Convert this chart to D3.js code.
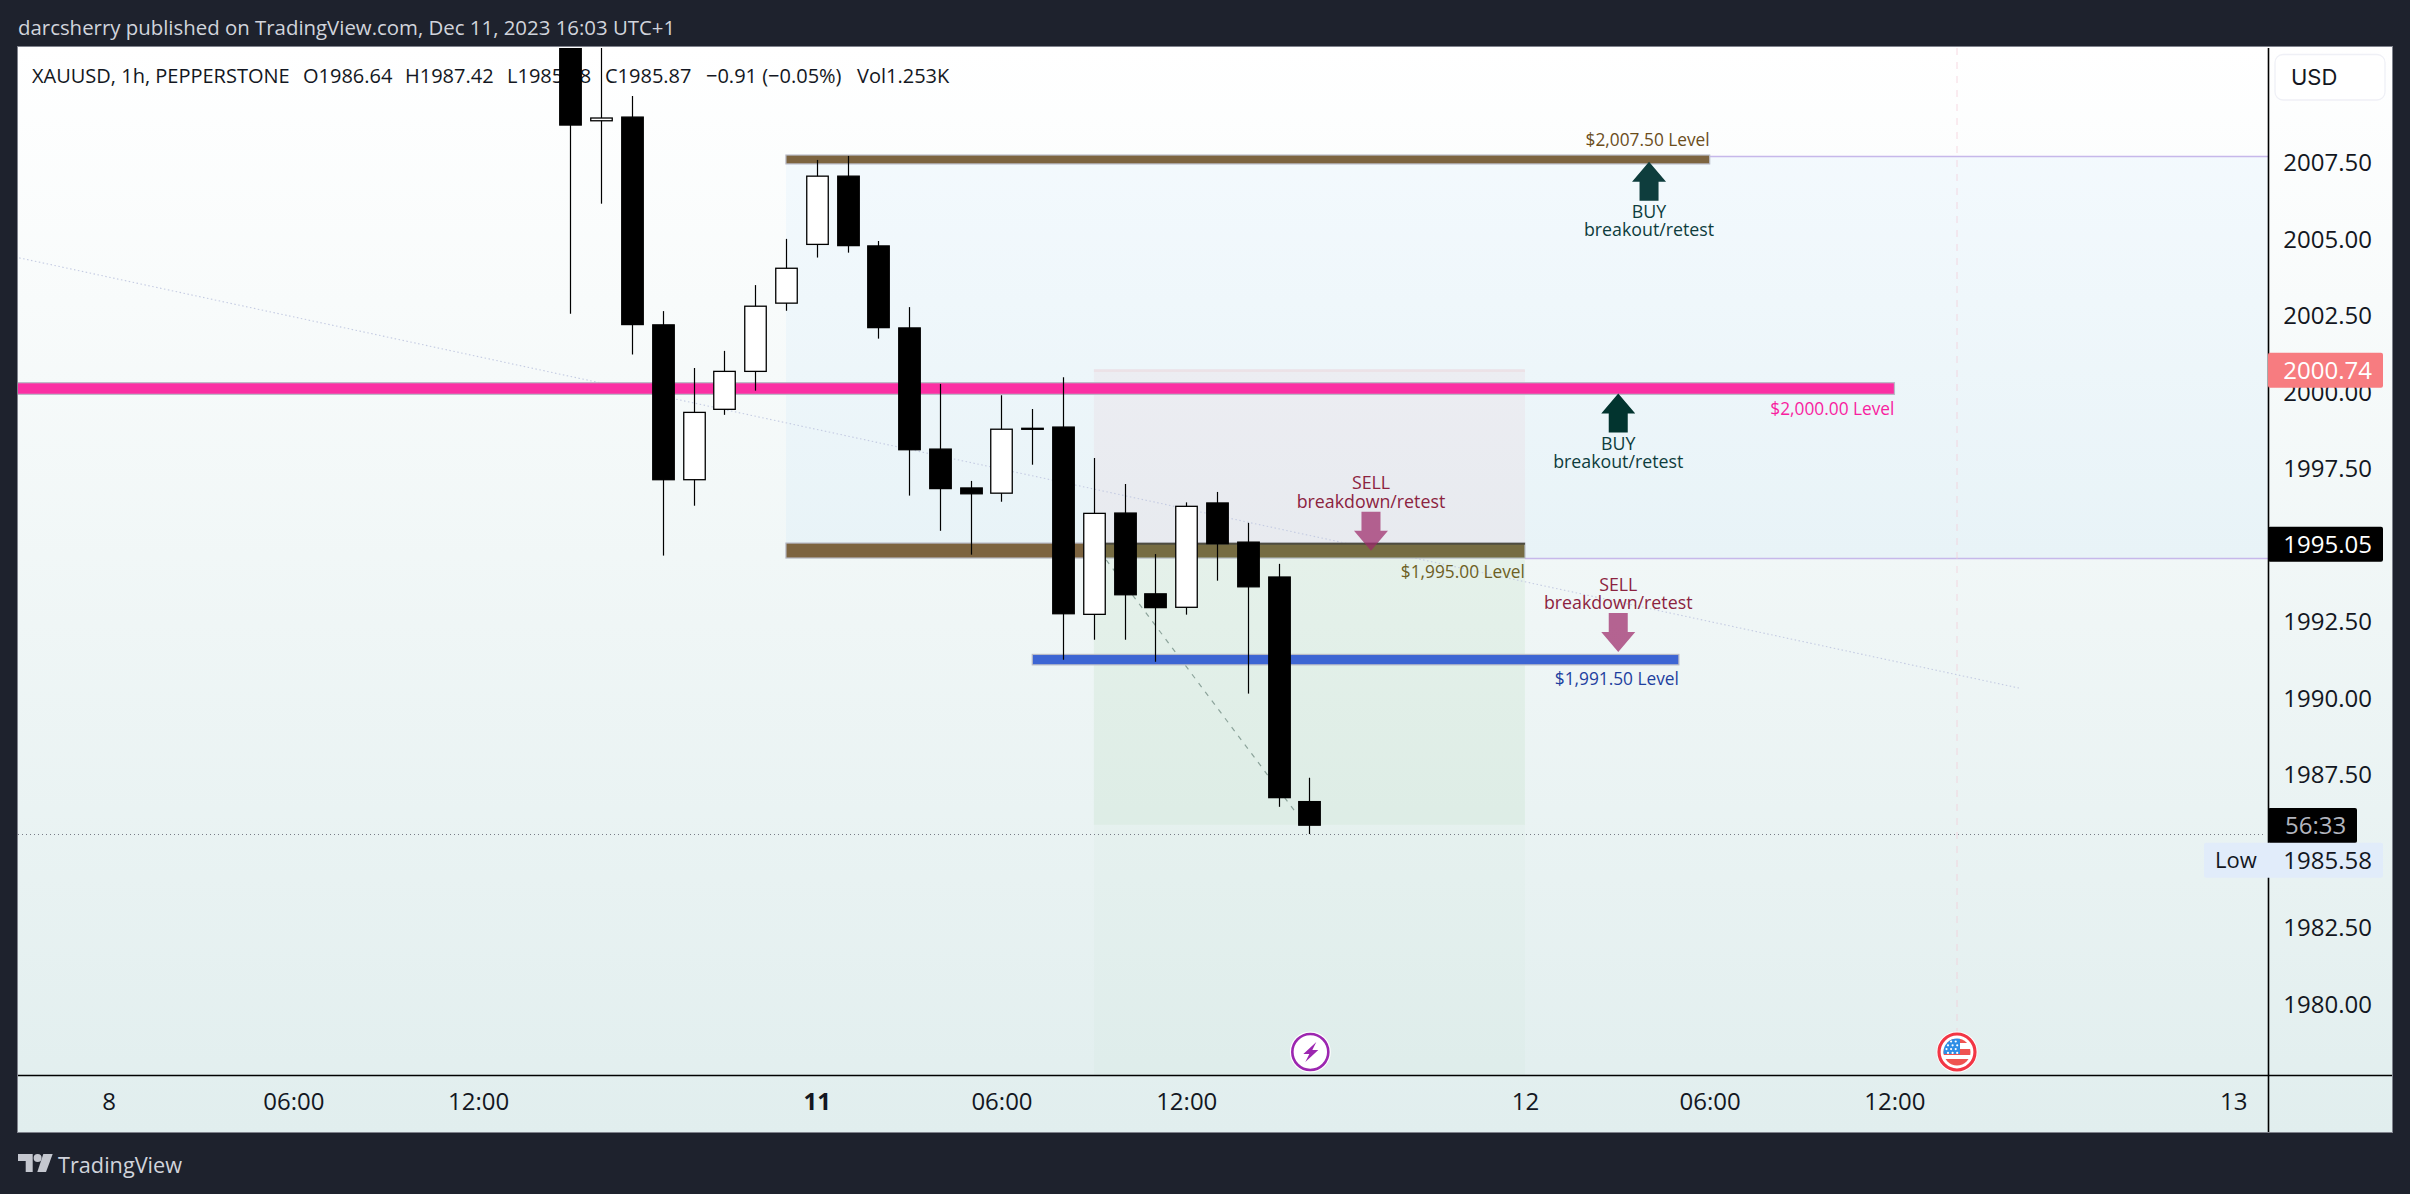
<!DOCTYPE html>
<html><head><meta charset="utf-8">
<script src="https://cdn.jsdelivr.net/npm/d3@7/dist/d3.min.js"></script>
<style>html,body{margin:0;padding:0;background:#1e222d;overflow:hidden}svg{display:block}text{font-family:"Open Sans","Noto Sans",sans-serif}</style>
</head><body><svg id="c" width="2410" height="1194"></svg>
<script>
// ---- data ----
const barIndex = d3.range(0, 25);
const opens  = [2011.5,2008.98,2009.01,2002.22,1997.16,1999.46,2000.70,2002.93,2004.85,2007.08,2004.80,2002.12,1998.16,1996.89,1996.72,1998.84,1998.88,1992.76,1996.07,1993.43,1992.99,1996.40,1995.12,1993.98,1986.64];
const highs  = [2014.0,2013.00,2009.70,2002.67,2000.81,2001.37,2003.52,2005.03,2007.61,2007.74,2004.96,2002.80,2000.29,1997.12,1999.92,1999.47,2000.51,1997.87,1997.02,1994.73,1996.42,1996.76,1995.75,1994.41,1987.42];
const lows   = [2002.58,2006.18,2001.25,1994.68,1996.31,1999.28,2000.07,2002.68,2004.42,2004.58,2001.77,1996.64,1995.49,1994.71,1996.44,1997.65,1991.28,1991.93,1991.93,1991.21,1992.75,1993.86,1990.17,1986.47,1985.58];
const closes = [2008.75,2008.89,2002.23,1997.16,1999.36,2000.70,2002.83,2004.07,2007.08,2004.81,2002.13,1998.14,1996.87,1996.70,1998.81,1998.82,1992.78,1996.06,1993.40,1992.98,1996.29,1995.07,1993.66,1986.77,1985.87];
const priceTicks = [2007.5,2005,2002.5,2000,1997.5,1992.5,1990,1987.5,1982.5,1980];
const timeTickBars = [-15,-9,-3,8,14,20,31,37,43,54];
const timeTickLabels = ["8","06:00","12:00","11","06:00","12:00","12","06:00","12:00","13"];
const boldTimeTick = "11";
const legendBits = [["XAUUSD, 1h, PEPPERSTONE",32],["O1986.64",303],["H1987.42",405],["L1985.58",507],["C1985.87",605],["\u22120.91 (\u22120.05%)",706],["Vol1.253K",857]];
const lastPrice = 2000.74, entryPrice = 1995.05, closePrice = 1985.87, lowPrice = 1985.58;
const bands = [
 {top:2007.77,bot:2007.48,b0:7.0,b1:37.0,fill:"#7d6440"},
 {top:2000.33,bot:1999.95,b0:-18.5,b1:43.0,fill:"#fb2fa3"},
 {top:1995.09,bot:1994.60,b0:7.0,b1:31.0,fill:"#7d6440"},
 {top:1991.45,bot:1991.11,b0:15.0,b1:36.0,fill:"#3d65d3"}];
const levelLabels = [
 {text:"$2,007.50 Level",bar:37.0,price:2008.26,fill:"#6b4d1c"},
 {text:"$2,000.00 Level",bar:43.0,price:1999.47,fill:"#f81ea0"},
 {text:"$1,995.00 Level",bar:31.0,price:1994.15,fill:"#6d5f24"},
 {text:"$1,991.50 Level",bar:36.0,price:1990.65,fill:"#1d3f9f"}];
const signals = [
 {kind:"BUY",word:"breakout/retest",bar:35.03,tip:2007.55,fill:"#0e3d3d"},
 {kind:"BUY",word:"breakout/retest",bar:34.03,tip:1999.98,fill:"#02342f"},
 {kind:"SELL",word:"breakdown/retest",bar:26.0,tip:1994.84,fill:"#9c2a6a"},
 {kind:"SELL",word:"breakdown/retest",bar:34.03,tip:1991.53,fill:"#9c2a6a"}];

// ---- scales ----
const W=2410,H=1194,L=18,R=2392,T=48,AX=2268,BY=1075,FB=1132;
const x=d3.scaleLinear().domain([0,24]).range([570.4,1309.4]);
const y=d3.scaleLinear().domain([2007.5,1987.5]).range([163.3,775.3]);
const svg=d3.select("#c");
const defs=svg.append("defs");
const gr=defs.append("linearGradient").attr("id","bg").attr("x1",0).attr("y1",0).attr("x2",0).attr("y2",1);
gr.append("stop").attr("offset",0).attr("stop-color","#ffffff");
gr.append("stop").attr("offset",1).attr("stop-color","#e1eeee");
defs.append("clipPath").attr("id","plot").append("rect").attr("x",L).attr("y",T).attr("width",AX-L).attr("height",BY-T);
defs.append("clipPath").attr("id","flagclip").append("circle").attr("r",13.5);

svg.append("rect").attr("width",W).attr("height",H).attr("fill","#1e222d");
svg.append("rect").attr("x",L-.5).attr("y",T-1.5).attr("width",R-L+1).attr("height",FB-T+2).attr("fill","url(#bg)").attr("stroke","#7f828c").attr("stroke-width",1);

const plot=svg.append("g").attr("clip-path","url(#plot)");
// zones
const rect=(b0,b1,p0,p1)=>plot.append("rect").attr("x",x(b0)).attr("width",x(b1)-x(b0)).attr("y",y(p0)).attr("height",y(p1)-y(p0));
const zoneRight=x.invert(AX);
rect(7,zoneRight,2007.72,1994.6).attr("fill","#2196f3").attr("fill-opacity",.04);
rect(17,31,2000.77,1995.05).attr("fill","#f23645").attr("fill-opacity",.045);
rect(17,31,2000.77,2000.68).attr("fill","#f23645").attr("fill-opacity",.06);
rect(17,31,1994.6,1985.88).attr("fill","#4caf50").attr("fill-opacity",.075);
rect(17,31,1985.88,1976).attr("fill","#4caf50").attr("fill-opacity",.025);
// zone edges
const hline=(p,b0,b1)=>plot.append("line").attr("x1",x(b0)).attr("x2",x(b1)).attr("y1",Math.round(y(p))+.5).attr("y2",Math.round(y(p))+.5);
hline(2007.75,37,zoneRight).attr("stroke","#c6b8ea").attr("stroke-width",1.4);
hline(1994.6,31,zoneRight).attr("stroke","#c6b8ea").attr("stroke-width",1.4);
// event vertical line
plot.append("line").attr("x1",1957).attr("x2",1957).attr("y1",T).attr("y2",1033).attr("stroke","#f3c9d6").attr("stroke-opacity",.7).attr("stroke-dasharray","7 7");
// thin dotted trend
plot.append("line").attr("x1",x(-17.9)).attr("y1",y(2004.41)).attr("x2",x(47.05)).attr("y2",y(1990.35)).attr("stroke","#c4cbe2").attr("stroke-width",1.1).attr("stroke-dasharray","1.5 2.5");
// gray dashed projection
plot.append("line").attr("x1",x(17.4)).attr("y1",y(1994.54)).attr("x2",x(23.62)).attr("y2",y(1986.2)).attr("stroke","#6f8a80").attr("stroke-opacity",.75).attr("stroke-width",1.2).attr("stroke-dasharray","5 6");
// close price dotted
plot.append("line").attr("x1",L).attr("x2",AX-2).attr("y1",834.5).attr("y2",834.5).attr("stroke","#787b86").attr("stroke-width",1).attr("stroke-dasharray","1 3");

// horizontal level bands
plot.selectAll("rect.band").data(bands).join("rect").attr("class","band")
 .attr("x",d=>x(d.b0)).attr("width",d=>x(d.b1)-x(d.b0)).attr("y",d=>y(d.top)).attr("height",d=>y(d.bot)-y(d.top))
 .attr("fill",d=>d.fill).attr("stroke","#b8bac6").attr("stroke-width",1.2);
// olive tint & dark entry line over the trade part of lower band
rect(17,31,1995.09,1994.60).attr("fill","#4caf50").attr("fill-opacity",.12);
plot.append("line").attr("x1",x(17)).attr("x2",x(31)).attr("y1",y(1995.07)).attr("y2",y(1995.07)).attr("stroke","#4e4c40").attr("stroke-width",2);

// legend under candles
const legend=plot.append("g");
legend.selectAll("text").data(legendBits).join("text").attr("x",d=>d[1]).attr("y",76).attr("dy","0.35em").attr("font-size",20).attr("fill","#131722").text(d=>d[0]);

// candles
const candles=plot.append("g").selectAll("g").data(barIndex).join("g");
candles.append("line").attr("x1",i=>Math.round(x(i))+.5).attr("x2",i=>Math.round(x(i))+.5)
 .attr("y1",i=>y(highs[i])).attr("y2",i=>y(lows[i])).attr("stroke","#000").attr("stroke-width",1.2);
candles.append("rect").attr("x",i=>Math.round(x(i))+.5-10.75).attr("width",21.5)
 .attr("y",i=>y(Math.max(opens[i],closes[i]))).attr("height",i=>Math.max(1,Math.abs(y(opens[i])-y(closes[i]))))
 .attr("fill",i=>closes[i]>opens[i]?"#fff":(i===1?"#fff":"#000")).attr("stroke","#000").attr("stroke-width",1.3);

// signals
const sig=plot.append("g").selectAll("g").data(signals).join("g");
const arrow=d=>{const cx=x(d.bar),t=y(d.tip),s=d.kind==="BUY"?1:-1;
 return d3.line()([[cx,t],[cx+17,t+s*20],[cx+9.5,t+s*20],[cx+9.5,t+s*39],[cx-9.5,t+s*39],[cx-9.5,t+s*20],[cx-17,t+s*20]])+"Z";};
sig.append("path").attr("d",arrow).attr("fill",d=>d.fill).attr("fill-opacity",d=>d.kind==="SELL"?.72:1);
sig.each(function(d){const g=d3.select(this),cx=x(d.bar),t=y(d.tip);
 const c=d.kind==="BUY"?"#0e3d3d":"#8c2340";
 const y1=d.kind==="BUY"?t+50:t-67.5, y2=y1+18.3;
 g.append("text").attr("x",cx).attr("y",y1).attr("dy","0.35em").attr("text-anchor","middle").attr("font-size",17.8).attr("fill",c).text(d.kind);
 g.append("text").attr("x",cx).attr("y",y2).attr("dy","0.35em").attr("text-anchor","middle").attr("font-size",17.8).attr("fill",c).text(d.word);
});
// level labels
plot.selectAll("text.lv").data(levelLabels).join("text").attr("class","lv").attr("x",d=>x(d.bar)).attr("y",d=>y(d.price)).attr("dy","0.35em").attr("text-anchor","end").attr("font-size",17.3).attr("fill",d=>d.fill).text(d=>d.text);

// event icons
const icon=(cx,cy,col,sw)=>{const g=plot.append("g").attr("transform",`translate(${cx},${cy})`);
 g.append("circle").attr("r",20.5).attr("fill","#fff");
 g.append("circle").attr("r",18).attr("fill","#fff").attr("stroke",col).attr("stroke-width",sw);return g;};
const bolt=icon(x(24.03),1052,"#9c27b0",2.6);
bolt.append("path").attr("d","M6,-10 L-7,2 L-1,2 L-5,10 L8,-2 L2,-2 Z").attr("fill","#9c27b0");
const flag=icon(1957,1052,"#f23645",3.2);
const fg=flag.append("g").attr("clip-path","url(#flagclip)");
[[-13,-9,"#ef5350"],[-3,3,"#ef5350"],[7,14,"#ef5350"]].forEach(s=>fg.append("rect").attr("x",-14).attr("y",s[0]).attr("width",28).attr("height",s[1]-s[0]).attr("fill",s[2]));
fg.append("rect").attr("x",-14).attr("y",-14).attr("width",17).attr("height",16).attr("fill","#2e8ee6");
fg.selectAll("circle.st").data(d3.range(12)).join("circle").attr("class","st").attr("cx",i=>-10.5+(i%3)*4.6+(Math.floor(i/3)%2)*1.5).attr("cy",i=>-10.5+Math.floor(i/3)*3.8).attr("r",1.1).attr("fill","#fff");

// axes lines
svg.append("line").attr("x1",L).attr("x2",R).attr("y1",BY+.5).attr("y2",BY+.5).attr("stroke","#000").attr("stroke-width",1.6);
svg.append("line").attr("x1",AX+.5).attr("x2",AX+.5).attr("y1",T).attr("y2",FB).attr("stroke","#000").attr("stroke-width",1.6);

// price axis
const yAxis=d3.axisRight(y).tickValues(priceTicks).tickFormat(d3.format(".2f")).tickSize(0);
const ya=svg.append("g").attr("transform",`translate(${AX},0)`).call(yAxis);
ya.select(".domain").remove();
ya.selectAll("text").attr("x",104).attr("text-anchor","end").attr("font-size",24).attr("fill","#131722").attr("font-family",'"Open Sans"');
// time axis
const xAxis=d3.axisBottom(x).tickValues(timeTickBars).tickFormat((d,i)=>timeTickLabels[i]).tickSize(0);
const xa=svg.append("g").attr("transform",`translate(0,${BY})`).call(xAxis);
xa.select(".domain").remove();
xa.selectAll("text").attr("y",27).attr("dy","0.35em").attr("font-size",24).attr("fill","#131722").attr("font-family",'"Open Sans"')
 .attr("font-weight",d=>timeTickLabels[timeTickBars.indexOf(d)]===boldTimeTick?700:400);

// price badges
const badge=(x0,x1,cy,fill,tx,col,label)=>{
 svg.append("rect").attr("x",x0).attr("y",cy-17.5).attr("width",x1-x0).attr("height",35).attr("rx",2).attr("fill",fill);
 svg.append("text").attr("x",tx).attr("y",cy).attr("dy","0.35em").attr("text-anchor","end").attr("font-size",24).attr("fill",col).text(label);};
badge(AX,2383,y(lastPrice),"#f77c80",2372,"#fff",d3.format(".2f")(lastPrice));
badge(AX,2383,y(entryPrice),"#000",2372,"#fff",d3.format(".2f")(entryPrice));
// countdown (sits above the low tag)
svg.append("rect").attr("x",AX).attr("y",808).attr("width",89).attr("height",35).attr("rx",2).attr("fill","#000");
svg.append("text").attr("x",2315.7).attr("y",825.5).attr("dy","0.35em").attr("text-anchor","middle").attr("font-size",24).attr("fill","#b2b5be").text("56:33");
// Low tag (pushed below the countdown)
const lowY=860.3;
svg.append("rect").attr("x",2204).attr("y",lowY-17.5).attr("width",179).attr("height",35).attr("rx",2).attr("fill","#e1ecfa");
svg.append("text").attr("x",2372).attr("y",lowY).attr("dy","0.35em").attr("text-anchor","end").attr("font-size",24).attr("fill","#131722").text(d3.format(".2f")(lowPrice));
svg.append("text").attr("x",2215).attr("y",lowY).attr("dy","0.35em").attr("font-size",22).attr("fill","#131722").text("Low");
// USD
svg.append("rect").attr("x",2275).attr("y",54.5).attr("width",110).attr("height",45.5).attr("rx",8).attr("fill","#fff").attr("stroke","#eff0f6").attr("stroke-width",1.3);
svg.append("text").attr("x",2291).attr("y",76.7).attr("dy","0.36em").attr("font-size",22).attr("fill","#131722").attr("style",'font-family:Inter,"Open Sans"').text("USD");

// header & footer
svg.append("text").attr("x",18).attr("y",28).attr("dy","0.35em").attr("font-size",20.4).attr("fill","#d1d4dc").text("darcsherry published on TradingView.com, Dec 11, 2023 16:03 UTC+1");
const logo=svg.append("g").attr("fill","#c4c7cf");
logo.append("path").attr("d","M18,1154 H32.7 V1172 H25.7 V1161 H18 Z");
logo.append("circle").attr("cx",37.6).attr("cy",1158).attr("r",4);
logo.append("path").attr("d","M43.3,1154 H52.7 L46,1172 H37.3 Z");
svg.append("text").attr("x",58).attr("y",1165).attr("dy","0.35em").attr("font-size",21.7).attr("fill","#d1d4dc").text("TradingView");
</script></body></html>
